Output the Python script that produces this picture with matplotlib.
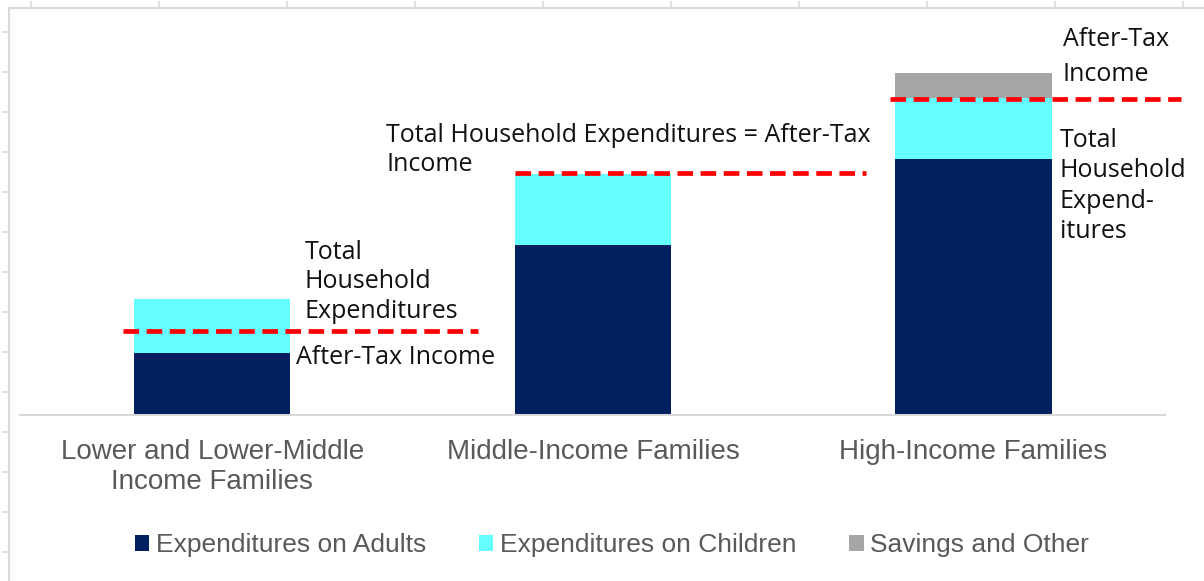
import matplotlib

matplotlib.use("Agg")
import matplotlib.pyplot as plt
from matplotlib.lines import Line2D
from matplotlib.patches import Patch
import numpy as np

categories = ["Lower and Lower-Middle\nIncome Families", "Middle-Income Families", "High-Income Families"]
adults = [62, 170, 256]
children = [54, 71, 61]
savings = [0, 0, 25]
after_tax_income = [84, 242, 316]

series_names = ["Expenditures on Adults", "Expenditures on Children", "Savings and Other"]
series_colors = ["#002060", "#66FFFF", "#A6A6A6"]

W, H = 1204, 581
fig = plt.figure(figsize=(W / 100, H / 100), dpi=100)
fig.patch.set_facecolor("white")

# axes box in pixels: left 20, right 1165, baseline 415, top 8
ax = fig.add_axes([20 / W, 1 - 415 / H, 1145 / W, 407 / H])
ax.set_xlim(-0.505, 2.503)
ax.set_ylim(0, 407)

x = np.arange(len(categories))
width = 0.41
ax.bar(x, adults, width, color=series_colors[0], zorder=2)
ax.bar(x, children, width, bottom=adults, color=series_colors[1], zorder=2)
ax.bar(x, savings, width, bottom=np.add(adults, children), color=series_colors[2], zorder=2)

# dashed after-tax income markers
line_spans = [(-0.234, 0.699), (-0.204, 0.718), (-0.219, 0.546)]
for xi, (a, b), level in zip(x, line_spans, after_tax_income):
    ax.plot([xi + a, xi + b], [level, level], color="#FF0000", lw=3.4,
            dashes=(3.3, 1.6), zorder=3, clip_on=False)

for side in ["top", "right", "left"]:
    ax.spines[side].set_visible(False)
ax.spines["bottom"].set_color("#D9D9D9")
ax.spines["bottom"].set_linewidth(1.5)
ax.set_yticks([])
ax.set_xticks([])

label_font = dict(family=["Liberation Sans", "DejaVu Sans"], color="#595959", fontsize=20)
for xi, cat in zip(x, categories):
    ax.text(xi, -24, cat, ha="center", va="top", linespacing=1.22, **label_font)

note_font = dict(family=["Open Sans", "DejaVu Sans"], color="#111111", fontsize=18)
ax.text(0.242, 133, "Total\nHousehold\nExpenditures", ha="left", va="center", linespacing=1.25, **note_font)
ax.text(0.221, 58, "After-Tax Income", ha="left", va="center", **note_font)
ax.text(0.457, 265, "Total Household Expenditures = After-Tax\nIncome", ha="left", va="center",
        linespacing=1.25, **note_font)
ax.text(2.235, 358, "After-Tax\nIncome", ha="left", va="center", linespacing=1.5, **note_font)
ax.text(2.227, 229, "Total\nHousehold\nExpend-\nitures", ha="left", va="center", linespacing=1.29, **note_font)

handles = [Patch(facecolor=c, edgecolor="none") for c in series_colors]
leg = fig.legend(handles, series_names, loc="center", bbox_to_anchor=(612 / W, 1 - 545 / H),
                 ncol=3, frameon=False, handlelength=0.55, handleheight=0.55, handletextpad=0.25,
                 columnspacing=2.0, prop={"family": "Liberation Sans", "size": 19})
for t in leg.get_texts():
    t.set_color("#595959")

# sheet grid edges behind the chart
grid_color = "#D9D9D9"
fig.add_artist(Line2D([9 / W, 1], [1 - 8 / H, 1 - 8 / H], color=grid_color, lw=1.5))
fig.add_artist(Line2D([9 / W, 9 / W], [0, 1 - 8 / H], color=grid_color, lw=1.5))
for px in range(31, W, 128):
    fig.add_artist(Line2D([px / W, px / W], [1 - 8 / H, 1 - 2 / H], color=grid_color, lw=1.2))
for py in range(32, H, 40):
    fig.add_artist(Line2D([3 / W, 9 / W], [1 - py / H, 1 - py / H], color=grid_color, lw=1.2))

fig.savefig("out.png", dpi=100)
